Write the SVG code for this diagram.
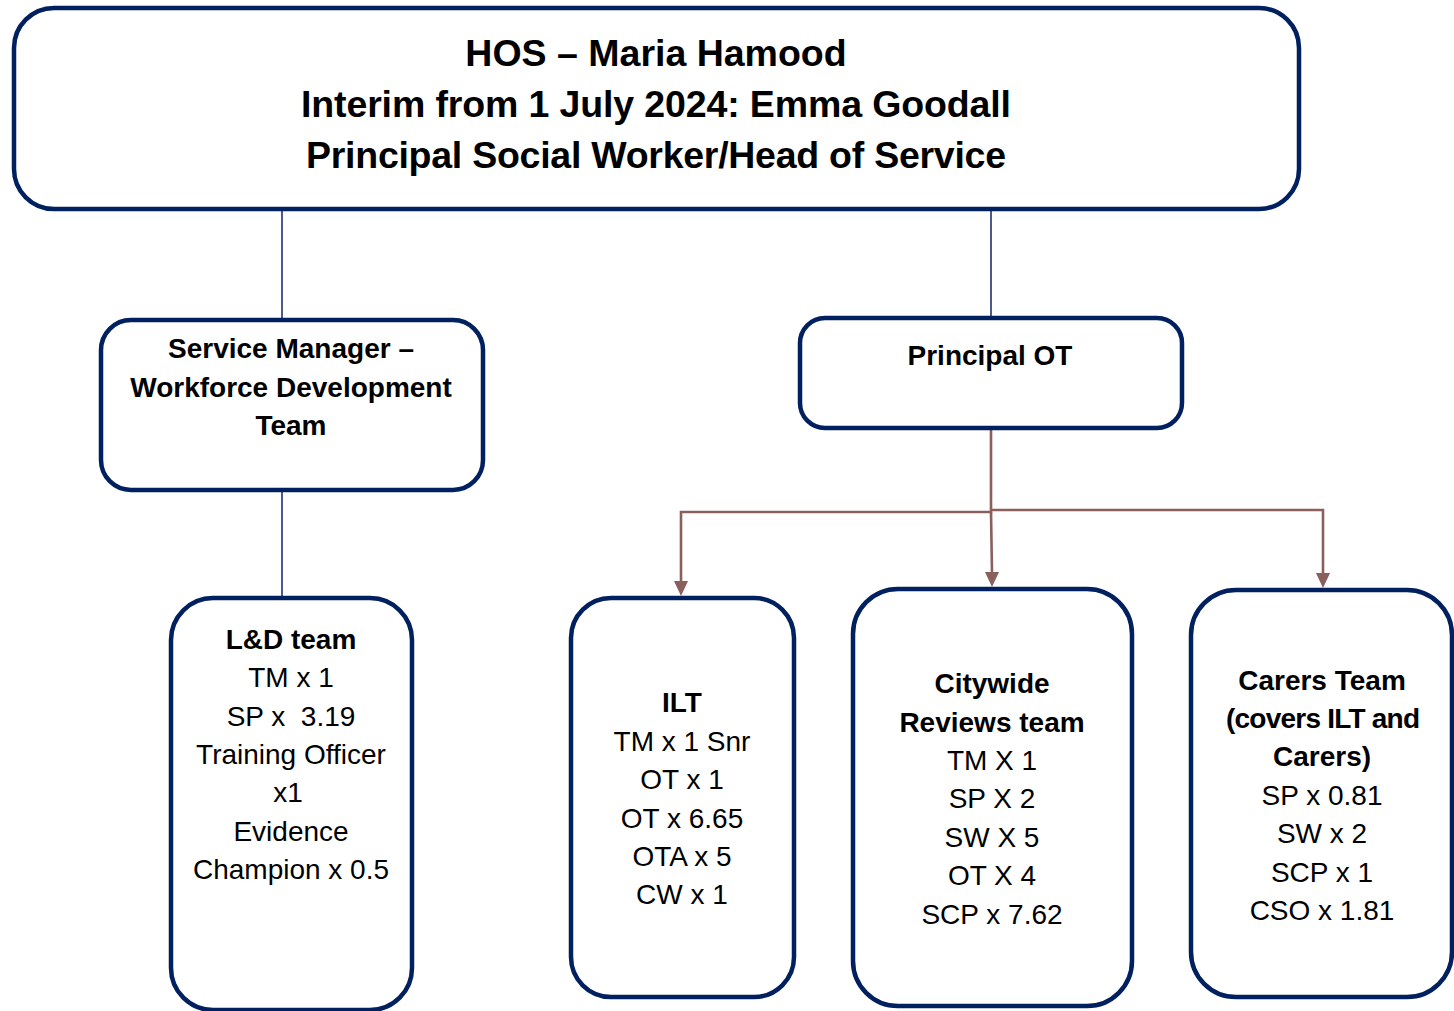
<svg xmlns="http://www.w3.org/2000/svg" width="1454" height="1011" viewBox="0 0 1454 1011">
<style>
.box{fill:#ffffff;stroke:#002060;stroke-width:4.5}
.t{font-family:"Liberation Sans",Arial,sans-serif;font-size:28px;fill:#000000;text-anchor:middle}
.b{font-weight:bold}
.big{font-size:37.5px;font-weight:bold}
.nav{stroke:#1f3070;stroke-width:1.6;fill:none}
.br{stroke:#8a5f5c;stroke-width:2.6;fill:none}
</style>
<rect width="1454" height="1011" fill="#ffffff"/>
<g id="connectors">
<line class="nav" x1="282" y1="210" x2="282" y2="320"/>
<line class="nav" x1="991" y1="210" x2="991" y2="318"/>
<line class="nav" x1="282" y1="492" x2="282" y2="602"/>
<path class="br" d="M991,429 V512 H681 V582"/>
<path d="M674,581 L688,581 L681,596 Z" fill="#8a5f5c"/>
<path class="br" d="M991,512 L992,573"/>
<path d="M985,572 L999,572 L992,587 Z" fill="#8a5f5c"/>
<path class="br" d="M991,510 H1323 V574"/>
<path d="M1316,573 L1330,573 L1323,588 Z" fill="#8a5f5c"/>
</g>
<g id="hos">
<rect class="box" x="14" y="8" width="1285" height="201" rx="40"/>
<text class="t big" x="656" y="66">HOS – Maria Hamood</text>
<text class="t big" x="656" y="117" textLength="710">Interim from 1 July 2024: Emma Goodall</text>
<text class="t big" x="656" y="168" textLength="700">Principal Social Worker/Head of Service</text>
</g>
<g id="service-manager">
<rect class="box" x="101" y="320" width="382" height="170" rx="30"/>
<text class="t b" x="291" y="358">Service Manager –</text>
<text class="t b" x="291" y="397">Workforce Development</text>
<text class="t b" x="291" y="435">Team</text>
</g>
<g id="principal-ot">
<rect class="box" x="800" y="318" width="382" height="110" rx="25"/>
<text class="t b" x="990" y="365">Principal OT</text>
</g>
<g id="ld-team">
<rect class="box" x="171" y="598" width="241" height="412" rx="42"/>
<text class="t b" x="291" y="649">L&amp;D team</text>
<text class="t" x="291" y="687">TM x 1</text>
<text class="t" x="291" y="726" xml:space="preserve">SP x  3.19</text>
<text class="t" x="291" y="764">Training Officer</text>
<text class="t" x="288" y="802">x1</text>
<text class="t" x="291" y="841">Evidence</text>
<text class="t" x="291" y="879">Champion x 0.5</text>
</g>
<g id="ilt">
<rect class="box" x="571" y="598" width="223" height="399" rx="40"/>
<text class="t b" x="682" y="712">ILT</text>
<text class="t" x="682" y="751">TM x 1 Snr</text>
<text class="t" x="682" y="789">OT x 1</text>
<text class="t" x="682" y="828">OT x 6.65</text>
<text class="t" x="682" y="866">OTA x 5</text>
<text class="t" x="682" y="904">CW x 1</text>
</g>
<g id="citywide">
<rect class="box" x="853" y="589" width="279" height="417" rx="45"/>
<text class="t b" x="992" y="693">Citywide</text>
<text class="t b" x="992" y="732">Reviews team</text>
<text class="t" x="992" y="770">TM X 1</text>
<text class="t" x="992" y="808">SP X 2</text>
<text class="t" x="992" y="847">SW X 5</text>
<text class="t" x="992" y="885">OT X 4</text>
<text class="t" x="992" y="924">SCP x 7.62</text>
</g>
<g id="carers">
<rect class="box" x="1191" y="590" width="261" height="407" rx="45"/>
<text class="t b" x="1322" y="690">Carers Team</text>
<text class="t b" x="1323" y="728" textLength="194">(covers ILT and</text>
<text class="t b" x="1322" y="766">Carers)</text>
<text class="t" x="1322" y="805">SP x 0.81</text>
<text class="t" x="1322" y="843">SW x 2</text>
<text class="t" x="1322" y="882">SCP x 1</text>
<text class="t" x="1322" y="920">CSO x 1.81</text>
</g>
</svg>
